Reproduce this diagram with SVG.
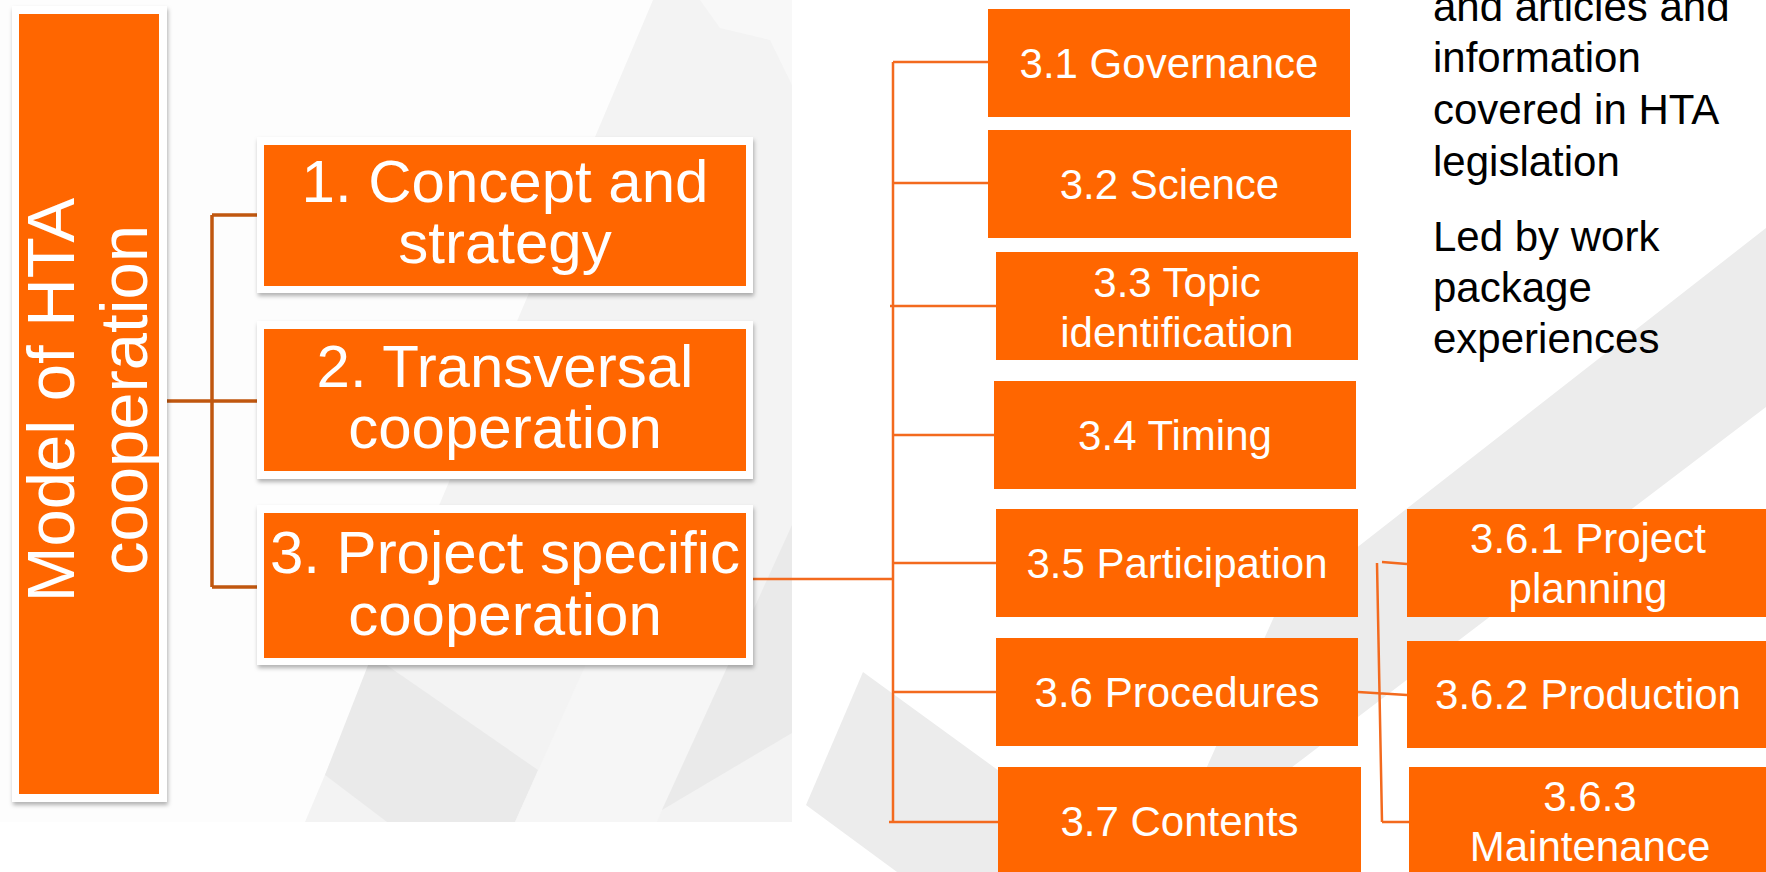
<svg xmlns="http://www.w3.org/2000/svg" width="1766" height="872" viewBox="0 0 1766 872">
<defs>
<filter id="sh" x="-10%" y="-10%" width="120%" height="130%">
<feDropShadow dx="1" dy="3" stdDeviation="2" flood-color="#000" flood-opacity="0.3"/>
</filter>
</defs>
<style>
.frame{fill:#ffffff;filter:url(#sh)}
.or{fill:#FF6600}
.big{font-family:"Liberation Sans",Arial,sans-serif;fill:#ffffff;text-anchor:middle;font-size:60px}
.side{font-family:"Liberation Sans",Arial,sans-serif;fill:#ffffff;text-anchor:middle;font-size:67px}
.sm{font-family:"Liberation Sans",Arial,sans-serif;fill:#ffffff;text-anchor:middle;font-size:42px}
.note{font-family:"Liberation Sans",Arial,sans-serif;fill:#000000;font-size:42px}
.c1{stroke:#C0570F;stroke-width:3.5;fill:none}
.c2{stroke:#F36A1E;stroke-width:2.5;fill:none}
.g1{fill:#F3F3F3}
.g2{fill:#EAEAEA}
.g3{fill:#ECECEC}
</style>
<rect x="0" y="0" width="1766" height="872" fill="#ffffff"/>
<g id="background">
<rect x="0" y="0" width="792" height="822" fill="#FDFDFD"/>
<polygon class="g1" points="653,0 792,0 792,822 305,822"/>
<polygon fill="#F8F8F8" points="700,0 792,0 792,85 770,40 720,28"/>
<polygon class="g2" points="372,655 538,770 515,822 387,822 325,775"/>
<polygon fill="#F6F6F6" points="590,655 733,655 662,810 657,822 515,822"/>
<polygon class="g2" points="792,525 792,733 662,810"/>
<polygon class="g3" points="1766,228 1277,610 1160,872 1154,872 1766,407"/>
<polygon class="g3" points="863,672 806,805 897,872 1138,872"/>
</g>
<g id="connectors">
<path class="c1" d="M167,401 H258 M212,215 V587 M212,215 H258 M212,587 H258"/>
<path class="c2" d="M753,579 H893 M893,62 V822 M893,62 H988 M893,183 H988 M890,306 H996 M893,435 H994 M893,563 H996 M893,692 H996 M889,822 H998"/>
<path class="c2" d="M1377,563 L1382,822 M1382,562 L1407,564 M1358,692 L1407,695 M1382,822 H1409"/>
</g>
<g id="node-model">
<rect class="frame" x="12" y="6" width="155" height="796"/>
<rect class="or" x="19" y="14" width="140" height="780"/>
<text class="side" transform="translate(74,400) rotate(-90)">Model of HTA</text>
<text class="side" transform="translate(147,400) rotate(-90)">cooperation</text>
</g>
<g id="node-1">
<rect class="frame" x="257" y="137" width="496" height="156"/>
<rect class="or" x="264" y="145" width="482" height="141"/>
<text class="big" x="505" y="202">1. Concept and</text>
<text class="big" x="505" y="263">strategy</text>
</g>
<g id="node-2">
<rect class="frame" x="257" y="321" width="496" height="158"/>
<rect class="or" x="264" y="329" width="482" height="142"/>
<text class="big" x="505" y="387">2. Transversal</text>
<text class="big" x="505" y="448">cooperation</text>
</g>
<g id="node-3">
<rect class="frame" x="257" y="505" width="496" height="160"/>
<rect class="or" x="264" y="513" width="482" height="145"/>
<text class="big" x="505" y="573">3. Project specific</text>
<text class="big" x="505" y="635">cooperation</text>
</g>
<g id="node-3-1">
<rect class="or" x="988" y="9" width="362" height="108"/>
<text class="sm" x="1169" y="78">3.1 Governance</text>
</g>
<g id="node-3-2">
<rect class="or" x="988" y="130" width="363" height="108"/>
<text class="sm" x="1169.5" y="199">3.2 Science</text>
</g>
<g id="node-3-3">
<rect class="or" x="996" y="252" width="362" height="108"/>
<text class="sm" x="1177" y="297">3.3 Topic</text>
<text class="sm" x="1177" y="347">identification</text>
</g>
<g id="node-3-4">
<rect class="or" x="994" y="381" width="362" height="108"/>
<text class="sm" x="1175" y="450">3.4 Timing</text>
</g>
<g id="node-3-5">
<rect class="or" x="996" y="509" width="362" height="108"/>
<text class="sm" x="1177" y="578">3.5 Participation</text>
</g>
<g id="node-3-6">
<rect class="or" x="996" y="638" width="362" height="108"/>
<text class="sm" x="1177" y="707">3.6 Procedures</text>
</g>
<g id="node-3-7">
<rect class="or" x="998" y="767" width="363" height="108"/>
<text class="sm" x="1179.5" y="836">3.7 Contents</text>
</g>
<g id="node-3-6-1">
<rect class="or" x="1407" y="509" width="362" height="108"/>
<text class="sm" x="1588" y="553">3.6.1 Project</text>
<text class="sm" x="1588" y="603">planning</text>
</g>
<g id="node-3-6-2">
<rect class="or" x="1407" y="641" width="362" height="107"/>
<text class="sm" x="1588" y="709">3.6.2 Production</text>
</g>
<g id="node-3-6-3">
<rect class="or" x="1409" y="767" width="362" height="108"/>
<text class="sm" x="1590" y="811">3.6.3</text>
<text class="sm" x="1590" y="861">Maintenance</text>
</g>
<g id="notes">
<text class="note" x="1433" y="21">and articles and</text>
<text class="note" x="1433" y="72">information</text>
<text class="note" x="1433" y="124">covered in HTA</text>
<text class="note" x="1433" y="176">legislation</text>
<text class="note" x="1433" y="251">Led by work</text>
<text class="note" x="1433" y="302">package</text>
<text class="note" x="1433" y="353">experiences</text>
</g>
</svg>
